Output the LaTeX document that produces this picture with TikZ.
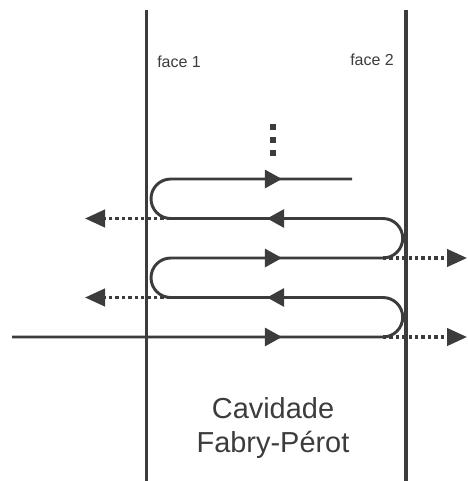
\documentclass[tikz,border=0pt]{standalone}
\usepackage{fontspec}
\setmainfont{Liberation Sans}
\usetikzlibrary{arrows.meta,positioning}
\definecolor{ink}{HTML}{3C3C3C}
\tikzset{
  wall/.style={
    draw=ink,
    line width=2.5pt
  },
  beam/.style={
    draw=ink,
    line width=2.2pt,
    rounded corners=14.8pt
  },
  tiphead/.style={
    draw=ink,
    line width=2.2pt,
    -{Triangle[length=12.8pt,width=13.5pt]}
  },
  leak/.style={
    draw=ink,
    line width=2.4pt,
    dash pattern=on 2.5pt off 2.3pt,
    -{Triangle[length=15pt,width=13pt]}
  },
  vdot/.style={
    shape=rectangle,
    fill=ink,
    inner sep=0pt,
    minimum size=4.6pt
  },
  facelabel/.style={
    anchor=base west,
    text=ink,
    inner sep=0pt,
    font=\fontsize{12}{14}\selectfont
  },
  cavtext/.style={
    text=ink,
    align=center,
    inner sep=0pt,
    font=\fontsize{21.7}{26.2}\selectfont
  }
}
\begin{document}
\begin{tikzpicture}[x=0.75pt,y=-0.75pt]
        \useasboundingbox (0,0) rectangle (467,481);
        % mirrors
        \coordinate (w1top) at (146.7,10);
        \coordinate (w1bot) at (146.7,481);
        \coordinate (w2top) at (406,10);
        \coordinate (w2bot) at (406,481);
        \draw[wall] (w1top) -- (w1bot);
        \draw[wall] (w2top) -- (w2bot);
        % beam path
        \coordinate (in) at (12,337);
        \coordinate (r1) at (402.7,297.5);
        \coordinate (l1) at (151,258);
        \coordinate (r2) at (402.7,218.5);
        \coordinate (l2) at (151,179);
        \coordinate (out) at (352,179);
        \draw[beam] (in) -| (r1) -| (l1) -| (r2) -| (l2) -- (out);
        % arrow heads on the beam
        \coordinate (a1) at (282,337);
        \coordinate (a2) at (267,297.5);
        \coordinate (a3) at (282,258);
        \coordinate (a4) at (267,218.5);
        \coordinate (a5) at (282,179);
        \draw[tiphead] (200,337) -- (a1);
        \draw[tiphead] (340,297.5) -- (a2);
        \draw[tiphead] (200,258) -- (a3);
        \draw[tiphead] (340,218.5) -- (a4);
        \draw[tiphead] (200,179) -- (a5);
        % transmitted and reflected parts
        \coordinate (t1s) at (383,337);
        \coordinate (t1e) at (467,337);
        \coordinate (t2s) at (383,258);
        \coordinate (t2e) at (467,258);
        \coordinate (r1s) at (170,297.5);
        \coordinate (r1e) at (85,297.5);
        \coordinate (r2s) at (170,218.5);
        \coordinate (r2e) at (85,218.5);
        \draw[leak] (t1s) -- (t1e);
        \draw[leak] (t2s) -- (t2e);
        \draw[leak] (r1s) -- (r1e);
        \draw[leak] (r2s) -- (r2e);
        % dots
        \node[vdot] (d1) at (273,127) {};
        \node[vdot] (d2) at (273,140) {};
        \node[vdot] (d3) at (273,153) {};
        % labels
        \node[facelabel] (f1) at (157,67.5) {face 1};
        \node[facelabel] (f2) at (350,66) {face 2};
        \node[cavtext] (cav) at (273,428) {Cavidade\\Fabry-Pérot};
\end{tikzpicture}
\end{document}
